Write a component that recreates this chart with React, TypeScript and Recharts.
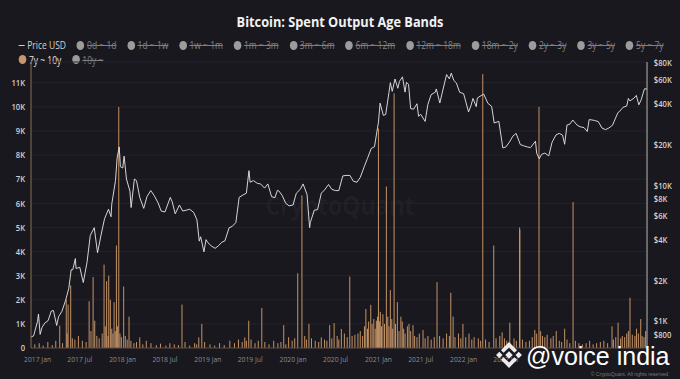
import React from 'react';
import { ComposedChart, Bar, Line, XAxis, YAxis, CartesianGrid } from 'recharts';

// ---------- data ----------
const priceUsd: [string, number][] = [
  ['2016-12-04', 765], ['2016-12-15', 780], ['2017-01-01', 1000], ['2017-01-05', 1130], ['2017-01-12', 800],
  ['2017-01-20', 900], ['2017-02-01', 970], ['2017-02-15', 1010], ['2017-03-01', 1190], ['2017-03-10', 1200],
  ['2017-03-24', 930], ['2017-04-01', 1080], ['2017-04-15', 1180], ['2017-05-01', 1420], ['2017-05-15', 1750],
  ['2017-05-25', 2400], ['2017-06-01', 2400], ['2017-06-12', 2900], ['2017-06-15', 2450], ['2017-07-01', 2500],
  ['2017-07-16', 1930], ['2017-08-01', 2720], ['2017-08-15', 4300], ['2017-09-01', 4900], ['2017-09-15', 3200],
  ['2017-10-01', 4400], ['2017-10-15', 5700], ['2017-11-01', 6700], ['2017-11-12', 5900], ['2017-11-15', 7300],
  ['2017-12-01', 10900], ['2017-12-08', 16000], ['2017-12-17', 19300], ['2017-12-22', 13800], ['2018-01-01', 13500],
  ['2018-01-07', 16500], ['2018-01-17', 11200], ['2018-02-01', 9100], ['2018-02-06', 6900], ['2018-02-20', 11200],
  ['2018-03-01', 10900], ['2018-03-15', 8200], ['2018-04-01', 6800], ['2018-04-15', 8300], ['2018-05-01', 9200],
  ['2018-05-15', 8500], ['2018-06-01', 7500], ['2018-06-15', 6500], ['2018-07-01', 6400], ['2018-07-24', 8200],
  ['2018-08-01', 7600], ['2018-08-14', 6200], ['2018-09-01', 7200], ['2018-09-15', 6500], ['2018-10-01', 6600],
  ['2018-10-15', 6700], ['2018-11-01', 6350], ['2018-11-15', 5600], ['2018-11-25', 3900], ['2018-12-01', 4200],
  ['2018-12-15', 3250], ['2018-12-24', 4000], ['2019-01-01', 3800], ['2019-01-15', 3600], ['2019-02-01', 3450],
  ['2019-02-15', 3600], ['2019-03-01', 3820], ['2019-03-15', 3920], ['2019-04-02', 4900], ['2019-04-15', 5000],
  ['2019-05-01', 5350], ['2019-05-15', 8200], ['2019-06-01', 8550], ['2019-06-15', 8800], ['2019-06-26', 12900],
  ['2019-07-01', 10600], ['2019-07-15', 10900], ['2019-08-01', 10400], ['2019-08-15', 10300], ['2019-09-01', 9600],
  ['2019-09-15', 10300], ['2019-10-01', 8300], ['2019-10-15', 8150], ['2019-10-26', 9250], ['2019-11-01', 9150],
  ['2019-11-15', 8500], ['2019-12-01', 7400], ['2019-12-15', 7100], ['2020-01-01', 7200], ['2020-01-15', 8800],
  ['2020-02-01', 9400], ['2020-02-13', 10300], ['2020-03-01', 8600], ['2020-03-12', 4900], ['2020-03-15', 5350],
  ['2020-04-01', 6600], ['2020-04-15', 6650], ['2020-05-01', 8800], ['2020-05-15', 9300], ['2020-06-01', 10200],
  ['2020-06-15', 9400], ['2020-07-01', 9200], ['2020-07-15', 9200], ['2020-08-01', 11800], ['2020-08-15', 11900],
  ['2020-09-01', 11900], ['2020-09-15', 10800], ['2020-10-01', 10600], ['2020-10-15', 11500], ['2020-11-01', 13800],
  ['2020-11-15', 15900], ['2020-12-01', 18800], ['2020-12-15', 19400], ['2021-01-01', 29400], ['2021-01-08', 40600],
  ['2021-01-22', 33000], ['2021-02-01', 33500], ['2021-02-15', 48700], ['2021-02-21', 57500], ['2021-03-01', 49600],
  ['2021-03-13', 61200], ['2021-03-25', 52300], ['2021-04-01', 58800], ['2021-04-14', 63500], ['2021-04-25', 49000],
  ['2021-05-01', 57800], ['2021-05-10', 56000], ['2021-05-19', 37000], ['2021-06-01', 36700], ['2021-06-15', 40200],
  ['2021-06-22', 32500], ['2021-07-01', 33600], ['2021-07-20', 29800], ['2021-08-01', 39900], ['2021-08-15', 47000],
  ['2021-09-01', 48800], ['2021-09-06', 51700], ['2021-09-21', 40700], ['2021-10-01', 48200], ['2021-10-20', 66000],
  ['2021-11-01', 61300], ['2021-11-09', 67600], ['2021-11-20', 59700], ['2021-12-01', 57200], ['2021-12-15', 48900],
  ['2022-01-01', 47700], ['2022-01-22', 35000], ['2022-02-01', 38700], ['2022-02-10', 44000], ['2022-02-24', 38300],
  ['2022-03-01', 44400], ['2022-03-28', 47400], ['2022-04-15', 40500], ['2022-05-01', 38500], ['2022-05-12', 29000],
  ['2022-06-01', 29800], ['2022-06-18', 19000], ['2022-07-01', 19300], ['2022-07-15', 20800], ['2022-08-01', 23300],
  ['2022-08-14', 24300], ['2022-09-01', 20100], ['2022-09-15', 19700], ['2022-10-01', 19300], ['2022-10-15', 19100],
  ['2022-11-05', 21300], ['2022-11-10', 17400], ['2022-11-21', 15800], ['2022-12-01', 17000], ['2022-12-15', 17400],
  ['2023-01-01', 16600], ['2023-01-15', 20900], ['2023-02-01', 23700], ['2023-02-15', 24300], ['2023-03-01', 23600],
  ['2023-03-10', 20200], ['2023-03-20', 28000], ['2023-04-01', 28400], ['2023-04-14', 30500], ['2023-05-01', 28100],
  ['2023-05-15', 27200], ['2023-06-01', 26800], ['2023-06-15', 25100], ['2023-06-23', 30700], ['2023-07-01', 30600],
  ['2023-07-15', 30300], ['2023-08-01', 29700], ['2023-08-17', 26600], ['2023-09-01', 25900], ['2023-09-15', 26600],
  ['2023-10-01', 27900], ['2023-10-24', 34500], ['2023-11-01', 35400], ['2023-11-15', 37800], ['2023-12-01', 38700],
  ['2023-12-08', 44000], ['2023-12-15', 42200], ['2024-01-01', 44200], ['2024-01-11', 46300], ['2024-01-22', 39500],
  ['2024-02-01', 43000], ['2024-02-15', 51800], ['2024-02-25', 51700],
];

// 7y ~ 10y spent outputs (BTC)
const spent7yTo10y: [string, number][] = [
  // large spikes
  ['2017-04-06', 930], ['2017-05-04', 2000], ['2017-05-12', 1800], ['2017-05-23', 2600], ['2017-08-10', 1940],
  ['2017-08-27', 2940], ['2017-09-03', 1130], ['2017-10-13', 3460], ['2017-10-24', 2770], ['2017-11-02', 3000],
  ['2017-11-09', 2000], ['2017-11-25', 1900], ['2017-12-05', 4250], ['2017-12-15', 10000], ['2018-01-05', 2550],
  ['2018-01-28', 1300], ['2018-03-15', 440], ['2018-09-12', 1800], ['2018-11-23', 440], ['2018-12-06', 1000],
  ['2019-06-08', 440], ['2019-06-25', 1130], ['2019-08-20', 1660], ['2019-11-22', 950], ['2019-12-13', 450],
  ['2020-01-21', 3100], ['2020-02-08', 6330], ['2020-03-09', 1000], ['2020-05-01', 440], ['2020-06-06', 950],
  ['2020-06-25', 1030], ['2020-07-26', 790], ['2020-08-31', 2960], ['2020-11-08', 1620], ['2020-11-29', 1790],
  ['2020-12-23', 1130], ['2021-01-01', 9100], ['2021-01-09', 1500], ['2021-02-04', 6700], ['2021-02-21', 2400],
  ['2021-03-09', 10560], ['2021-03-23', 1900], ['2021-04-07', 1300], ['2021-05-29', 950], ['2021-07-11', 750],
  ['2021-09-09', 2730], ['2021-11-07', 2290], ['2021-11-17', 1300], ['2021-12-29', 1000], ['2022-02-15', 450],
  ['2022-03-24', 11360], ['2022-05-10', 4250], ['2022-07-18', 1050], ['2022-08-29', 5000], ['2022-08-30', 4900],
  ['2022-11-02', 750], ['2022-11-20', 10000], ['2022-11-27', 700], ['2023-02-02', 700], ['2023-03-10', 800],
  ['2023-04-15', 6050], ['2023-09-29', 900], ['2023-10-25', 1050], ['2023-11-22', 450], ['2023-12-15', 2080],
  ['2024-01-30', 1200], ['2024-02-13', 450],
  // small daily spending
  ['2016-12-20', 150], ['2017-01-08', 200], ['2017-01-25', 100], ['2017-02-14', 250], ['2017-03-05', 120],
  ['2017-03-20', 300], ['2017-04-18', 200], ['2017-05-08', 600], ['2017-05-30', 400], ['2017-06-10', 350],
  ['2017-06-25', 500], ['2017-07-12', 300], ['2017-07-28', 250], ['2017-08-18', 700], ['2017-09-12', 500],
  ['2017-09-22', 400], ['2017-10-05', 600], ['2017-10-18', 900], ['2017-10-30', 500], ['2017-11-15', 800],
  ['2017-11-20', 600], ['2017-11-30', 700], ['2017-12-10', 900], ['2017-12-20', 600], ['2017-12-26', 450],
  ['2018-01-12', 500], ['2018-01-20', 350], ['2018-02-05', 300], ['2018-02-18', 200], ['2018-03-01', 250],
  ['2018-03-28', 150], ['2018-04-12', 300], ['2018-05-02', 200], ['2018-05-25', 120], ['2018-06-12', 180],
  ['2018-07-05', 100], ['2018-07-22', 200], ['2018-08-10', 150], ['2018-08-28', 120], ['2018-09-25', 250],
  ['2018-10-15', 100], ['2018-11-05', 200], ['2018-11-14', 150], ['2018-12-18', 250], ['2019-01-10', 150],
  ['2019-01-30', 100], ['2019-02-20', 200], ['2019-03-12', 120], ['2019-04-05', 300], ['2019-04-25', 200],
  ['2019-05-12', 350], ['2019-05-28', 250], ['2019-06-15', 300], ['2019-07-05', 350], ['2019-07-22', 200],
  ['2019-08-05', 300], ['2019-09-02', 250], ['2019-09-20', 150], ['2019-10-10', 300], ['2019-10-28', 200],
  ['2019-11-10', 250], ['2019-12-01', 150], ['2019-12-28', 300], ['2020-01-08', 400], ['2020-02-20', 500],
  ['2020-02-28', 350], ['2020-03-20', 400], ['2020-04-05', 300], ['2020-04-20', 250], ['2020-05-15', 350],
  ['2020-05-25', 300], ['2020-06-15', 400], ['2020-07-08', 500], ['2020-07-15', 350], ['2020-08-08', 600],
  ['2020-08-20', 450], ['2020-09-10', 500], ['2020-09-22', 550], ['2020-10-05', 600], ['2020-10-15', 700],
  ['2020-10-25', 500], ['2020-11-02', 900], ['2020-11-15', 800], ['2020-11-20', 1100], ['2020-12-05', 1000],
  ['2020-12-12', 1200], ['2020-12-18', 800], ['2020-12-28', 1300], ['2021-01-05', 1100], ['2021-01-14', 900],
  ['2021-01-20', 1400], ['2021-01-27', 1000], ['2021-02-10', 1300], ['2021-02-15', 900], ['2021-02-27', 1200],
  ['2021-03-03', 800], ['2021-03-15', 1000], ['2021-03-30', 700], ['2021-04-13', 1100], ['2021-04-19', 800],
  ['2021-04-25', 600], ['2021-05-05', 900], ['2021-05-12', 1000], ['2021-05-19', 700], ['2021-06-05', 500],
  ['2021-06-15', 450], ['2021-06-25', 600], ['2021-07-20', 400], ['2021-08-01', 500], ['2021-08-15', 350],
  ['2021-08-28', 450], ['2021-09-20', 500], ['2021-10-05', 400], ['2021-10-20', 600], ['2021-11-01', 500],
  ['2021-11-25', 450], ['2021-12-10', 600], ['2021-12-20', 400], ['2022-01-10', 450], ['2022-01-24', 600],
  ['2022-02-05', 350], ['2022-03-05', 400], ['2022-03-15', 300], ['2022-04-05', 350], ['2022-04-20', 250],
  ['2022-05-20', 400], ['2022-06-05', 500], ['2022-06-15', 650], ['2022-06-25', 400], ['2022-07-05', 300],
  ['2022-08-05', 400], ['2022-08-15', 300], ['2022-09-10', 350], ['2022-09-25', 250], ['2022-10-10', 300],
  ['2022-10-22', 450], ['2022-11-10', 600], ['2022-12-05', 500], ['2022-12-15', 450], ['2022-12-25', 550],
  ['2023-01-10', 400], ['2023-01-20', 500], ['2023-02-15', 300], ['2023-02-25', 250], ['2023-03-20', 350],
  ['2023-04-01', 200], ['2023-04-25', 300], ['2023-05-10', 200], ['2023-05-25', 150], ['2023-06-10', 200],
  ['2023-06-25', 300], ['2023-07-10', 150], ['2023-07-25', 200], ['2023-08-10', 250], ['2023-08-25', 300],
  ['2023-09-10', 200], ['2023-10-05', 350], ['2023-10-15', 450], ['2023-11-05', 400], ['2023-11-12', 500],
  ['2023-12-01', 600], ['2023-12-08', 700], ['2023-12-25', 550], ['2024-01-05', 500], ['2024-01-12', 800],
  ['2024-01-20', 600], ['2024-02-05', 500], ['2024-02-20', 700],
];

const xDomainDates = ['2016-12-04', '2024-02-26'];
// labels from 2023 on sit under the "@voice india" overlay in the reference
const xTickDates = [
  '2017-01-01', '2017-07-01', '2018-01-01', '2018-07-01', '2019-01-01', '2019-07-01', '2020-01-01', '2020-07-01',
  '2021-01-01', '2021-07-01', '2022-01-01', '2022-07-01',
];
const xTickLabels = [
  '2017 Jan', '2017 Jul', '2018 Jan', '2018 Jul', '2019 Jan', '2019 Jul', '2020 Jan', '2020 Jul',
  '2021 Jan', '2021 Jul', '2022 Jan', '2022 Jul',
];
const leftTicks = [0, 1000, 2000, 3000, 4000, 5000, 6000, 7000, 8000, 9000, 10000, 11000];
const leftTickLabels = ['0', '1K', '2K', '3K', '4K', '5K', '6K', '7K', '8K', '9K', '10K', '11K'];
const leftDomain = [0, 11860];
const rightTicks = [800, 1000, 2000, 4000, 6000, 8000, 10000, 20000, 40000, 60000, 80000];
const rightTickLabels = ['$800', '$1K', '$2K', '$4K', '$6K', '$8K', '$10K', '$20K', '$40K', '$60K', '$80K'];
const rightDomain = [635, 81700];

const legendBands = [
  '0d ~ 1d', '1d ~ 1w', '1w ~ 1m', '1m ~ 3m', '3m ~ 6m', '6m ~ 12m', '12m ~ 18m', '18m ~ 2y',
  '2y ~ 3y', '3y ~ 5y', '5y ~ 7y', '7y ~ 10y', '10y ~',
];
const activeBand = '7y ~ 10y';

// ---------- helpers ----------
const EPOCH = Date.UTC(2017, 0, 1);
const toDay = (s: string) => (Date.parse(s + 'T00:00:00Z') - EPOCH) / 86400000;

type Row = { x: number; price?: number; spent?: number };
function buildRows(): Row[] {
  const map = new Map<number, Row>();
  for (const [d, v] of priceUsd) {
    const x = toDay(d);
    const r = map.get(x) ?? { x };
    r.price = v;
    map.set(x, r);
  }
  for (const [d, v] of spent7yTo10y) {
    const x = toDay(d);
    const r = map.get(x) ?? { x };
    r.spent = Math.max(r.spent ?? 0, v);
    map.set(x, r);
  }
  return [...map.values()].sort((a, b) => a.x - b.x);
}
const rows = buildRows();
const xTickDays = xTickDates.map(toDay);

// ---------- styling ----------
const BG = '#19181e';
const BAR = '#d39d6c';
const FONT = '"Open Sans", "Noto Sans", sans-serif';
const OVERLAY_FONT = '"Liberation Sans", Arial, sans-serif';
const SX = 0.85; // horizontal squeeze of the original render
const INNER_W = 800;
const H = 379;

const Spike = (props: any) => {
  const { x, y, width, height, fill } = props;
  if (![x, y, width, height].every((n) => typeof n === 'number' && isFinite(n))) return null;
  if (height <= 0) return null;
  const cx = x + width / 2;
  return <rect x={cx - 0.6} y={y} width={1.2} height={height} fill={fill} fillOpacity={0.9} />;
};

const BinanceLogo = () => (
  <svg width={28} height={28} viewBox="0 0 26 26" style={{ position: 'absolute', left: 495, top: 341 }}>
    <g fill="#ececec">
      <polygon points="13,9.5 16.5,13 13,16.5 9.5,13" />
      <polygon points="4,10 7,13 4,16 1,13" />
      <polygon points="22,10 25,13 22,16 19,13" />
      <polygon points="13,1 20.5,8.5 18,11 13,6 8,11 5.5,8.5" />
      <polygon points="13,25 20.5,17.5 18,15 13,20 8,15 5.5,17.5" />
    </g>
  </svg>
);

export default function App() {
  return (
    <div style={{ position: 'absolute', left: 0, top: 0, width: 680, height: H, background: BG, overflow: 'hidden' }}>
      <div
        style={{
          position: 'absolute', left: 0, top: 0, width: INNER_W, height: H,
          transform: `scaleX(${SX})`, transformOrigin: '0 0', fontFamily: FONT,
        }}
      >
        {/* title */}
        <div style={{ position: 'absolute', left: 0, top: 11, width: INNER_W, textAlign: 'center', fontSize: 15, lineHeight: '20px', fontWeight: 700, color: '#f2f2f2' }}>
          Bitcoin: Spent Output Age Bands
        </div>
        {/* legend */}
        <div style={{ position: 'absolute', left: 22, top: 38, width: 760, display: 'flex', flexWrap: 'wrap', columnGap: 12.8, rowGap: 0, fontSize: 10, lineHeight: '14.5px' }}>
          <div style={{ display: 'flex', alignItems: 'center', color: '#d4d4d4' }}>
            <span style={{ display: 'inline-block', width: 7, height: 1.5, background: '#cfcfcf', marginRight: 3 }} />
            Price USD
          </div>
          {legendBands.map((b) => {
            const on = b === activeBand;
            return (
              <div key={b} style={{ display: 'flex', alignItems: 'center' }}>
                <span style={{ display: 'inline-block', width: 9, height: 9, borderRadius: '50%', background: on ? '#c4976e' : '#9c9c9c', marginRight: 3 }} />
                <span style={{ color: on ? '#e6e6e6' : '#808080', textDecoration: on ? 'none' : 'line-through' }}>{b}</span>
              </div>
            );
          })}
        </div>
        {/* watermark */}
        <div style={{ position: 'absolute', left: 0, top: 188, width: INNER_W, textAlign: 'center', fontSize: 27, lineHeight: '34px', fontWeight: 700, color: 'rgba(255,255,255,0.04)' }}>
          CryptoQuant
        </div>
        <div style={{ position: 'absolute', left: 0, top: 0 }}>
          <ComposedChart width={INNER_W} height={H} data={rows} margin={{ top: 62, right: 0, bottom: 11, left: 0 }}>
            <CartesianGrid yAxisId="left" vertical={false} stroke="#25242b" strokeWidth={1} />
            <XAxis
              dataKey="x" type="number" height={20}
              domain={[toDay(xDomainDates[0]), toDay(xDomainDates[1])]} allowDataOverflow
              ticks={xTickDays} interval={0}
              tickFormatter={(v: number) => xTickLabels[xTickDays.indexOf(v)] ?? ''}
              tickLine={false} tickSize={0} tickMargin={8}
              axisLine={{ stroke: '#5e4d42' }}
              tick={{ fill: '#8c8c8c', fontSize: 8, fontFamily: FONT }}
            />
            <YAxis
              yAxisId="left" orientation="left" width={36.5} type="number"
              domain={leftDomain} allowDataOverflow ticks={leftTicks} interval={0}
              tickFormatter={(v: number) => leftTickLabels[leftTicks.indexOf(v)] ?? ''}
              tickLine={false} tickSize={0} tickMargin={7}
              axisLine={{ stroke: '#9a7556' }}
              tick={{ fill: '#d2d2d2', fontSize: 9, fontWeight: 600, fontFamily: FONT }}
            />
            <YAxis
              yAxisId="right" orientation="right" width={38.8} type="number" scale="log"
              domain={rightDomain} allowDataOverflow ticks={rightTicks} interval={0}
              tickFormatter={(v: number) => rightTickLabels[rightTicks.indexOf(v)] ?? ''}
              tickLine={false} tickSize={0} tickMargin={8}
              axisLine={{ stroke: '#c4c4c4' }}
              tick={{ fill: '#d2d2d2', fontSize: 9, fontWeight: 600, fontFamily: FONT }}
            />
            <Bar yAxisId="left" dataKey="spent" fill={BAR} shape={<Spike />} isAnimationActive={false} />
            <Line yAxisId="right" dataKey="price" type="linear" connectNulls dot={false} activeDot={false}
              stroke="#e4e4e4" strokeWidth={1} isAnimationActive={false} />
          </ComposedChart>
        </div>
        {/* copyright */}
        <div style={{ position: 'absolute', right: 14, top: 370.5, fontSize: 6, lineHeight: '7px', color: '#7a7a7a', fontFamily: OVERLAY_FONT }}>
          © CryptoQuant. All rights reserved
        </div>
      </div>
      {/* overlay */}
      <BinanceLogo />
      <div style={{ position: 'absolute', left: 526, top: 343, fontFamily: OVERLAY_FONT, fontSize: 25, lineHeight: '27px', color: '#ffffff', whiteSpace: 'nowrap' }}>
        @voice india
      </div>
    </div>
  );
}
